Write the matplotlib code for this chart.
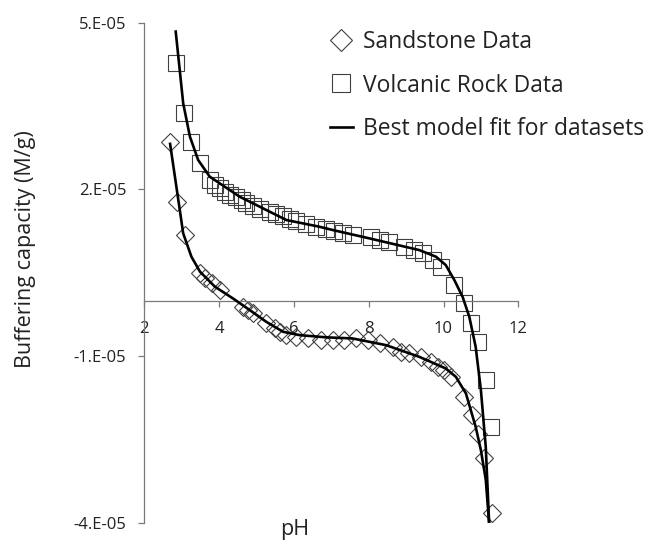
import numpy as np
import matplotlib
matplotlib.use("Agg")
import matplotlib.pyplot as plt
from matplotlib.lines import Line2D

plt.rcParams['font.family'] = ['Open Sans', 'DejaVu Sans']

# ––––– data (y in units of 1e-5 M/g)
sand_ph = [2.69, 2.88, 3.09, 3.49, 3.62, 3.80, 4.02, 4.64, 4.78, 4.91, 5.26, 5.49,
           5.62, 5.80, 6.06, 6.37, 6.73, 7.04, 7.35, 7.66, 7.97, 8.29, 8.64, 8.86,
           9.09, 9.40, 9.66, 9.84, 10.02, 10.20, 10.55, 10.77, 10.91, 11.09, 11.29]
sand_bc = [2.86, 1.78, 1.18, 0.49, 0.40, 0.31, 0.19, -0.11, -0.17, -0.23, -0.41, -0.50,
           -0.56, -0.62, -0.65, -0.68, -0.71, -0.71, -0.70, -0.68, -0.71, -0.77, -0.83, -0.92,
           -0.95, -1.01, -1.10, -1.19, -1.25, -1.37, -1.73, -2.06, -2.39, -2.83, -3.82]

volc_ph = [2.84, 3.06, 3.26, 3.49, 3.77, 3.89, 4.02, 4.15, 4.29, 4.45, 4.60, 4.73, 4.91,
           5.10, 5.35, 5.53, 5.71, 5.90, 6.06, 6.33, 6.60, 6.86, 7.08, 7.30, 7.57, 8.06,
           8.29, 8.55, 8.95, 9.22, 9.44, 9.71, 9.93, 10.29, 10.55, 10.73, 10.91, 11.13, 11.26]
volc_bc = [4.27, 3.37, 2.85, 2.47, 2.17, 2.08, 2.02, 1.96, 1.90, 1.86, 1.81, 1.76, 1.70,
           1.65, 1.60, 1.56, 1.52, 1.47, 1.43, 1.38, 1.33, 1.28, 1.25, 1.21, 1.18, 1.15,
           1.09, 1.06, 0.97, 0.91, 0.85, 0.73, 0.61, 0.28, -0.05, -0.41, -0.74, -1.43, -2.27]

# model fit curves (traced)
fit_sand_ph = [2.69, 2.91, 3.04, 3.26, 3.49, 3.89, 4.37, 4.82, 5.26, 5.71, 6.15, 6.86,
               7.57, 8.46, 9.35, 10.06, 10.33, 10.60, 10.86, 11.00, 11.13, 11.22]
fit_sand_bc = [2.82, 1.81, 1.21, 0.79, 0.52, 0.25, 0.04, -0.17, -0.38, -0.56, -0.62, -0.66,
               -0.68, -0.80, -1.01, -1.22, -1.37, -1.67, -2.27, -2.69, -3.22, -4.0]

fit_volc_ph = [2.84, 3.04, 3.22, 3.44, 3.75, 4.55, 5.80, 6.68, 7.04, 8.02, 9.35, 9.80,
               10.06, 10.29, 10.51, 10.69, 10.86, 11.00, 11.13, 11.22]
fit_volc_bc = [4.84, 3.55, 2.95, 2.53, 2.23, 1.87, 1.45, 1.33, 1.27, 1.12, 0.91, 0.79,
               0.64, 0.37, 0.07, -0.29, -0.83, -1.61, -2.63, -4.0]

scale = 1e-5
edge = '#404040'

fig = plt.figure(figsize=(6.51, 5.40), dpi=100)
ax = fig.add_axes([144.3 / 651, 1 - 523 / 540, (518.3 - 144.3) / 651, (523 - 22.7) / 540])

ax.plot(fit_sand_ph, np.array(fit_sand_bc) * scale, c='black', lw=1.9, zorder=3)
ax.plot(fit_volc_ph, np.array(fit_volc_bc) * scale, c='black', lw=1.9, zorder=3)
ax.plot(sand_ph, np.array(sand_bc) * scale, ls='none', marker='D', ms=8.8,
        mfc='none', mec=edge, mew=0.8, zorder=2)
ax.plot(volc_ph, np.array(volc_bc) * scale, ls='none', marker='s', ms=12.2,
        mfc='none', mec=edge, mew=0.8, zorder=2)

ax.set_xlim(2, 12)
ax.set_ylim(-4e-5, 5e-5)
ax.set_xticks(range(2, 13, 2))
ax.set_yticks([-4e-5, -1e-5, 2e-5, 5e-5])
ax.set_yticklabels(['-4.E-05', '-1.E-05', '2.E-05', '5.E-05'])

ax.spines['top'].set_visible(False)
ax.spines['right'].set_visible(False)
ax.spines['bottom'].set_position(('data', 0))
for s in ('left', 'bottom'):
    ax.spines[s].set_color('#7a7a7a')
    ax.spines[s].set_linewidth(0.9)
ax.tick_params(axis='both', direction='out', length=4, width=0.9, color='#7a7a7a',
               labelsize=12, labelcolor='#222222')
ax.tick_params(axis='y', pad=9)
ax.tick_params(axis='x', pad=11)

fig.text(26 / 651, 1 - 249 / 540, 'Buffering capacity (M/g)', rotation=90,
         ha='center', va='center', fontsize=15.5, color='#222222')
fig.text(295 / 651, 1 - 530 / 540, 'pH', ha='center', va='center',
         fontsize=15.5, color='#222222')

handles = [
    Line2D([], [], ls='none', marker='D', ms=11.5, mfc='none', mec=edge, mew=0.8),
    Line2D([], [], ls='none', marker='s', ms=13, mfc='none', mec=edge, mew=0.8),
    Line2D([], [], c='black', lw=1.9),
]
labels = ['Sandstone Data', 'Volcanic Rock Data', 'Best model fit for datasets']
ax.legend(handles, labels, loc='upper left', bbox_to_anchor=(330 / 651, 1 - 30.5 / 540),
          bbox_transform=fig.transFigure, frameon=False, fontsize=16.5,
          handlelength=1.0, handletextpad=0.45, borderpad=0, borderaxespad=0,
          labelspacing=0.83, labelcolor='#222222')

plt.savefig('out.png', dpi=100)
